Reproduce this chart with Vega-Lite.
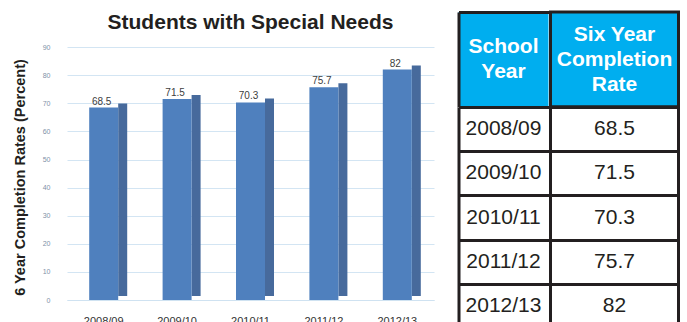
{
  "$schema": "https://vega.github.io/schema/vega-lite/v6.json",
  "padding": {"left": 12, "top": 10, "right": 0, "bottom": 0},
  "background": "white",
  "config": {"view": {"stroke": null}, "font": "Liberation Sans"},
  "datasets": {
    "d": [
      {"year": "2008/09", "rate": 68.5},
      {"year": "2009/10", "rate": 71.5},
      {"year": "2010/11", "rate": 70.3},
      {"year": "2011/12", "rate": 75.7},
      {"year": "2012/13", "rate": 82}
    ]
  },
  "spacing": 24.5,
  "hconcat": [
    {
      "width": 367,
      "height": 288,
      "title": {"text": "Students with Special Needs", "fontSize": 21, "fontWeight": "bold", "color": "#231f20", "anchor": "middle", "frame": "group", "offset": -21},
      "data": {"name": "d"},
      "encoding": {
        "x": {"field": "year", "type": "ordinal", "title": null,
          "scale": {"paddingInner": 0, "paddingOuter": 0},
          "axis": {"labelAngle": 0, "labelFontSize": 11, "labelColor": "#333333", "labelPadding": 15, "ticks": false, "domain": true, "domainColor": "#cfe2f1", "grid": false}},
        "y": {"field": "rate", "type": "quantitative", "scale": {"domain": [0, 102.5], "nice": false},
          "axis": {"values": [0, 10, 20, 30, 40, 50, 60, 70, 80, 90], "labelFontSize": 7, "labelColor": "#8090a8", "labelPadding": 17, "ticks": false, "domain": false, "gridColor": "#d3e5f3", "title": "6 Year Completion Rates (Percent)", "titleFontSize": 14.5, "titleFontWeight": "bold", "titleColor": "#231f20", "titlePadding": 15, "titleY": 165}}
      },
      "layer": [
        {"mark": {"type": "bar", "size": 9, "xOffset": 19, "yOffset": -4, "color": "#476a9c"}},
        {"mark": {"type": "bar", "size": 29, "color": "#4f80be"}},
        {"mark": {"type": "text", "baseline": "bottom", "dy": -1, "dx": -2, "fontSize": 10, "color": "#404040"}, "encoding": {"text": {"field": "rate", "type": "nominal"}}}
      ]
    },
    {
      "spacing": 0,
      "hconcat": [
        {
          "spacing": 0,
          "bounds": "flush",
          "vconcat": [
            {
              "width": 90, "height": 95,
              "view": {"fill": "#00aeef"},
              "data": {"values": [{"h": ["School", "Year"], "k": "head"}]},
              "mark": {"type": "text", "fontSize": 21, "fontWeight": "bold", "color": "white", "lineHeight": 25, "dy": -12.5},
              "encoding": {
                "y": {"field": "k", "type": "nominal", "title": null, "scale": {"paddingInner": 0, "paddingOuter": 0},
                  "axis": {"labels": false, "ticks": false, "domain": true, "domainColor": "#231f20", "domainWidth": 3, "grid": true, "tickBand": "extent", "gridColor": "#231f20", "gridWidth": 3}},
                "text": {"field": "h"}
              }
            },
            {
              "width": 90, "height": 221,
              "view": {"fill": "white"},
              "data": {"name": "d"},
              "mark": {"type": "text", "fontSize": 21, "color": "#231f20"},
              "encoding": {
                "y": {"field": "year", "type": "ordinal", "title": null, "scale": {"paddingInner": 0, "paddingOuter": 0},
                  "axis": {"labels": false, "ticks": false, "domain": true, "domainColor": "#231f20", "domainWidth": 3, "grid": true, "tickBand": "extent", "gridColor": "#231f20", "gridWidth": 3}},
                "text": {"field": "year"}
              }
            }
          ]
        },
        {
          "spacing": 0,
          "bounds": "flush",
          "vconcat": [
            {
              "width": 128, "height": 95,
              "view": {"fill": "#00aeef", "stroke": "#231f20", "strokeWidth": 3},
              "data": {"values": [{"h": ["Six Year", "Completion", "Rate"]}]},
              "mark": {"type": "text", "fontSize": 21, "fontWeight": "bold", "color": "white", "lineHeight": 25, "dy": -25},
              "encoding": {"text": {"field": "h"}}
            },
            {
              "width": 128, "height": 221,
              "view": {"fill": "white", "stroke": "#231f20", "strokeWidth": 3},
              "data": {"name": "d"},
              "mark": {"type": "text", "fontSize": 21, "color": "#231f20"},
              "encoding": {
                "y": {"field": "year", "type": "ordinal", "title": null, "scale": {"paddingInner": 0, "paddingOuter": 0},
                  "axis": {"labels": false, "ticks": false, "domain": false, "grid": true, "tickBand": "extent", "gridColor": "#231f20", "gridWidth": 3}},
                "text": {"field": "rate", "type": "nominal"}
              }
            }
          ]
        }
      ]
    }
  ]
}
